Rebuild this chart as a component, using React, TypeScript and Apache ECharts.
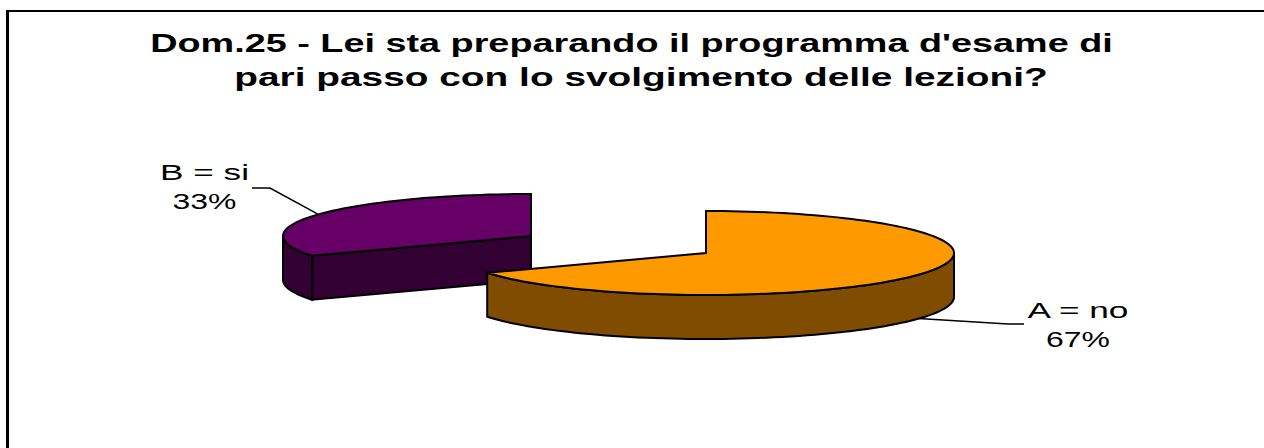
import React, { useEffect, useRef } from "react";
import * as echarts from "echarts";

const titleLines = ["Dom.25 - Lei sta preparando il programma d'esame di", "pari passo con lo svolgimento delle lezioni?"];
const categories = ["A = no", "B = si"];
const values = [67.2, 32.8];
const topColors = ["#FF9900", "#660066"];
const sideColors = ["#804D00", "#330033"];
// Layout of each exploded wedge: ellipse centre, leader elbows, label placement
const centres = [[706, 253], [531, 236]];
const elbows = [[[1008, 324], [1024, 324]], [[270, 188], [252, 188]]];
const labelX = [1078, 204.5];
const labelY = [[310, 339], [172.5, 201.5]];
const RX = 248, RY = 42, DEPTH = 44;
const total = values.reduce((a, b) => a + b, 0);

function pt(c: number[], deg: number, dy = 0) {
  const r = (deg * Math.PI) / 180;
  return [c[0] + RX * Math.sin(r), c[1] - RY * Math.cos(r) + dy];
}
function arc(c: number[], a: number, b: number, dy = 0) {
  const out: number[][] = [];
  const n = Math.max(2, Math.ceil(Math.abs(b - a) / 2));
  for (let i = 0; i <= n; i++) out.push(pt(c, a + ((b - a) * i) / n, dy));
  return out;
}

function renderItem(params: any, api: any) {
  const i = params.dataIndex;
  const before = values.slice(0, i).reduce((a, b) => a + b, 0);
  const start = (before / total) * 360;
  const end = start + (api.value(0) / total) * 360;
  const c = centres[i];
  const lineStyle = { stroke: "#000", lineWidth: 2, lineJoin: "miter" };
  const children: any[] = [];
  const z = i === 0 ? 20 : 10;
  const poly = (points: number[][], fill: string, zz = z) => ({
    type: "polygon", z2: zz, shape: { points }, style: { fill, ...lineStyle },
  });
  // leader line
  const mid = (start + end) / 2;
  const front = mid > 90 && mid < 270;
  const anchor = pt(c, mid, front ? DEPTH : 0);
  children.push({
    type: "polyline", z2: 1,
    shape: { points: [anchor, ...elbows[i]] },
    style: { stroke: "#000", lineWidth: 1.5, fill: "none" },
  });
  // radial cut face visible on the slice starting on the left-front side
  if (i === 1) {
    const e = pt(c, start);
    children.push(poly([c, e, [e[0], e[1] + DEPTH], [c[0], c[1] + DEPTH]], sideColors[i], z));
  }
  // outer wall: the part of the rim facing the viewer
  const wallA = Math.max(start, 90);
  const wallB = Math.min(end, 270);
  if (wallB > wallA) {
    const topArc = arc(c, wallA, wallB);
    const botArc = arc(c, wallA, wallB, DEPTH).reverse();
    children.push(poly([...topArc, ...botArc], sideColors[i], z + 1));
  }
  // top face
  children.push(poly([c, ...arc(c, start, end)], topColors[i], z + 2));
  // labels: category, then share
  const pct = `${Math.round((api.value(0) / total) * 100)}%`;
  [categories[i], pct].forEach((text, k) => {
    children.push({
      type: "text", z2: 30, x: labelX[i], y: labelY[i][k], scaleX: k === 0 ? 1.6 : 1.45,
      style: { text, fill: "#000", font: '22px "Liberation Sans"', align: "center", verticalAlign: "middle" },
    });
  });
  return { type: "group", children };
}

export default function App() {
  const ref = useRef<HTMLDivElement>(null);
  useEffect(() => {
    const chart = echarts.init(ref.current!, undefined, { renderer: "svg" });
    chart.setOption({
      animation: false,
      backgroundColor: "#fff",
      graphic: [
        { type: "line", shape: { x1: 7.5, y1: 10, x2: 7.5, y2: 448 }, style: { stroke: "#000", lineWidth: 3 }, z: 1 },
        { type: "line", shape: { x1: 6, y1: 11, x2: 1264, y2: 11 }, style: { stroke: "#000", lineWidth: 2 }, z: 1 },
        { type: "text", x: 631.5, y: 43, scaleX: 1.454, z: 5,
          style: { text: titleLines[0], fill: "#000", font: 'bold 26px "Liberation Sans"', align: "center", verticalAlign: "middle" } },
        { type: "text", x: 641, y: 77, scaleX: 1.494, z: 5,
          style: { text: titleLines[1], fill: "#000", font: 'bold 26px "Liberation Sans"', align: "center", verticalAlign: "middle" } },
      ],
      series: [{
        type: "custom", coordinateSystem: "none", renderItem,
        data: values.map((v, i) => ({ name: categories[i], value: [v] })),
        clip: false,
      }],
    });
    return () => chart.dispose();
  }, []);
  return <div ref={ref} style={{ position: "fixed", left: 0, top: 0, width: 1264, height: 448 }} />;
}
